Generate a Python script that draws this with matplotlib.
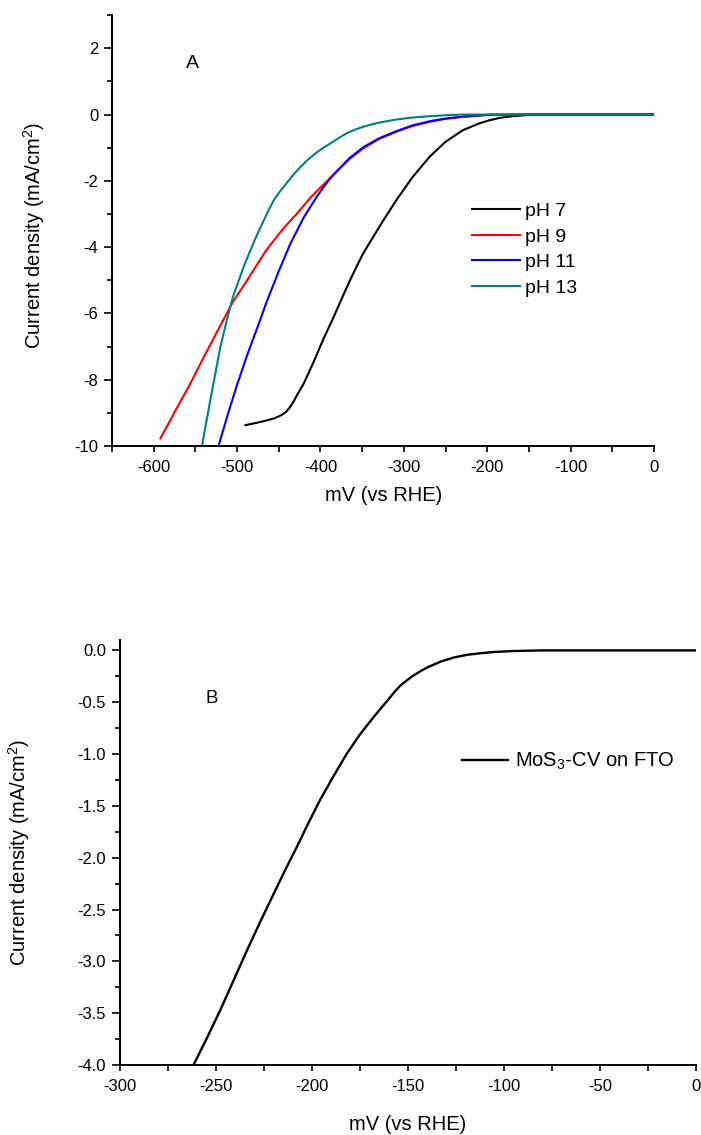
import numpy as np
import matplotlib
matplotlib.use("Agg")
import matplotlib.pyplot as plt
from matplotlib.ticker import MultipleLocator, FormatStrFormatter

plt.rcParams['font.family'] = ['Liberation Sans', 'DejaVu Sans']
plt.rcParams['mathtext.default'] = 'regular'
plt.rcParams['axes.unicode_minus'] = False

# --- Panel A: curvas de polarización a distintos pH ---
ph7_x = [-490, -475, -465, -455, -447, -441, -437, -433, -428, -420, -408, -397,
         -385, -375, -365, -357, -349, -339, -329, -319, -309, -290, -269, -250,
         -229, -210, -197, -185, -169, -155, -140, 0]
ph7_y = [-9.37, -9.29, -9.23, -9.16, -9.07, -8.96, -8.84, -8.69, -8.46, -8.11,
         -7.45, -6.80, -6.15, -5.58, -5.02, -4.60, -4.20, -3.78, -3.37, -2.97,
         -2.58, -1.90, -1.27, -0.82, -0.47, -0.27, -0.17, -0.10, -0.05, -0.02,
         0.0, 0.0]

ph9_x = [-592, -575, -556, -540, -525, -505, -488, -465, -445, -428, -410, -395,
         -380, -365, -349, -330, -309, -290, -269, -250, -229, -210, -197, -150, 0]
ph9_y = [-9.77, -8.98, -8.11, -7.32, -6.60, -5.65, -5.00, -4.09, -3.45, -2.98,
         -2.45, -2.08, -1.70, -1.34, -1.03, -0.74, -0.52, -0.35, -0.22, -0.13,
         -0.07, -0.03, 0.0, 0.0, 0.0]

ph11_x = [-522, -510, -500, -488, -475, -465, -450, -436, -420, -405, -395, -388,
          -380, -365, -349, -330, -309, -290, -269, -250, -229, -210, -197, -150, 0]
ph11_y = [-9.97, -8.95, -8.15, -7.26, -6.38, -5.68, -4.72, -3.89, -3.10, -2.50,
          -2.14, -1.92, -1.70, -1.31, -0.99, -0.72, -0.50, -0.33, -0.20, -0.12,
          -0.06, -0.03, -0.01, 0.0, 0.0]

ph13_x = [-542, -530, -520, -512, -505, -498, -491, -484, -477, -470, -463, -456,
          -448, -440, -432, -424, -415, -405, -395, -385, -377, -369, -359, -349,
          -339, -329, -309, -290, -269, -250, -229, 0]
ph13_y = [-9.97, -8.33, -7.00, -6.17, -5.50, -5.00, -4.52, -4.09, -3.68, -3.30,
          -2.93, -2.58, -2.30, -2.05, -1.80, -1.58, -1.36, -1.15, -0.98, -0.82,
          -0.69, -0.57, -0.46, -0.37, -0.30, -0.24, -0.15, -0.09, -0.05, -0.02,
          0.0, 0.0]

series_A = [
    ("pH 7", ph7_x, ph7_y, "black"),
    ("pH 9", ph9_x, ph9_y, "#ff0000"),
    ("pH 11", ph11_x, ph11_y, "#0000ff"),
    ("pH 13", ph13_x, ph13_y, "#008080"),
]

# --- Panel B: MoS3 sobre FTO ---
mos3_x = [-262, -255, -248, -241, -234, -227, -220, -214, -208, -202, -196, -189,
          -182, -175, -168, -161, -157, -154, -150, -147, -143, -140, -133, -126,
          -119, -112, -105, -95, -80, 0]
mos3_y = [-4.01, -3.75, -3.48, -3.19, -2.90, -2.62, -2.35, -2.12, -1.90, -1.67,
          -1.45, -1.22, -1.00, -0.81, -0.645, -0.49, -0.40, -0.34, -0.28, -0.24,
          -0.195, -0.165, -0.108, -0.068, -0.042, -0.027, -0.015, -0.006, 0.0, 0.0]

ylabel = "Current density (mA/cm$^2$)"
xlabel = "mV (vs RHE)"


def estilo_ejes(ax):
    ax.spines['top'].set_visible(False)
    ax.spines['right'].set_visible(False)
    for s in ('left', 'bottom'):
        ax.spines[s].set_linewidth(1.4)
    ax.tick_params(axis='y', which='major', direction='out', length=6, width=1.2,
                   pad=4, labelsize=12)
    ax.tick_params(axis='y', which='minor', direction='out', length=3.5, width=1.2)
    ax.tick_params(axis='x', which='both', direction='out', length=4, width=1.2,
                   pad=6, labelsize=12)


fig = plt.figure(figsize=(7.01, 11.35), dpi=100)

# Panel A
ax1 = fig.add_axes([0.1598, 0.607, 0.7732, 0.3797])
for nombre, xs, ys, c in series_A:
    ax1.plot(xs, ys, color=c, lw=1.5, label=nombre)
ax1.set_xlim(-650, 0)
ax1.set_ylim(-10, 3)
ax1.xaxis.set_major_locator(MultipleLocator(100))
ax1.xaxis.set_minor_locator(MultipleLocator(50))
ax1.yaxis.set_major_locator(MultipleLocator(2))
ax1.yaxis.set_minor_locator(MultipleLocator(1))
estilo_ejes(ax1)
ax1.set_xlabel(xlabel, fontsize=14.5)
ax1.set_ylabel(ylabel, fontsize=14.5)
ax1.xaxis.set_label_coords(0.502, -0.092)
ax1.yaxis.set_label_coords(-0.12, 0.49)
ax1.text(-553, 1.55, "A", fontsize=14, ha='center', va='center')
ax1.legend(loc='upper left', bbox_to_anchor=(0.664, 0.566), frameon=False,
           fontsize=14, handlelength=2.45, handletextpad=0.3, labelspacing=0.42,
           borderpad=0, borderaxespad=0)

# Panel B
ax2 = fig.add_axes([0.1712, 0.0617, 0.8217, 0.3744])
ax2.plot(mos3_x, mos3_y, color='black', lw=1.7, label="MoS$_3$-CV on FTO")
ax2.set_xlim(-300, 0)
ax2.set_ylim(-4.0, 0.1)
ax2.xaxis.set_major_locator(MultipleLocator(50))
ax2.xaxis.set_minor_locator(MultipleLocator(25))
ax2.yaxis.set_major_locator(MultipleLocator(0.5))
ax2.yaxis.set_minor_locator(MultipleLocator(0.25))
ax2.yaxis.set_major_formatter(FormatStrFormatter('%.1f'))
estilo_ejes(ax2)
ax2.set_xlabel(xlabel, fontsize=14.5)
ax2.set_ylabel(ylabel, fontsize=14.5)
ax2.xaxis.set_label_coords(0.5, -0.118)
ax2.yaxis.set_label_coords(-0.153, 0.5)
ax2.text(-252, -0.464, "B", fontsize=13.5, ha='center', va='center')
ax2.legend(loc='upper left', bbox_to_anchor=(0.594, 0.739), frameon=False,
           fontsize=14.5, handlelength=2.3, handletextpad=0.3,
           borderpad=0, borderaxespad=0)

fig.savefig("out.png", dpi=100)
